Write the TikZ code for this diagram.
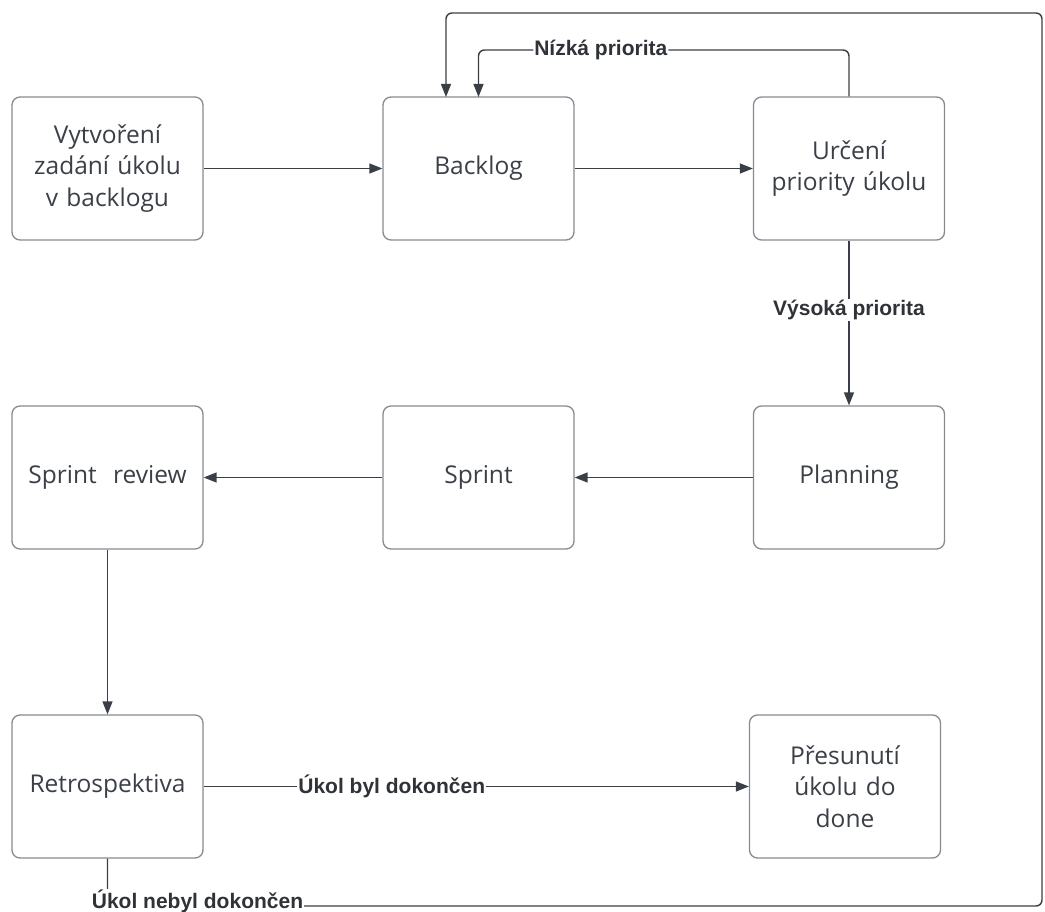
\documentclass[tikz,border=0pt]{standalone}
\usepackage{fontspec}
\setmainfont{Open Sans}
\newfontfamily\labelfont{Liberation Sans}
\usetikzlibrary{arrows.meta}
\definecolor{boxline}{HTML}{878B91}
\definecolor{wire}{HTML}{3A3F47}
\definecolor{ink}{HTML}{3B4048}
\definecolor{tagink}{HTML}{2F3338}
\begin{document}
\begin{tikzpicture}[x=1pt,y=-1pt,
  stage/.style={draw=boxline, line width=1.3pt, rounded corners=8pt, fill=white,
    minimum width=191pt, minimum height=143pt, inner sep=0pt, text width=185pt,
    align=center, text=ink, font=\fontsize{24.5}{31.5}\selectfont},
  wireline/.style={draw=wire, line width=1.4pt},
  flow/.style={wireline, -{Triangle[length=13pt,width=10pt]}},
  tag/.style={fill=white, inner sep=1pt, text=tagink,
    font=\labelfont\bfseries\fontsize{21}{23}\selectfont}]
\useasboundingbox (0,0) rectangle (1045,912);

% process steps
\node[stage] (create)   at (107.5,168.5) {Vytvoření\\zadání úkolu\\v backlogu};
\node[stage] (backlog)  at (478.5,168.5) {Backlog};
\node[stage] (priority) at (849,168.5)   {Určení\\priority úkolu};
\node[stage] (review)   at (107.5,477.5) {Sprint~~review};
\node[stage] (sprint)   at (478.5,477.5) {Sprint};
\node[stage] (planning) at (849,477.5)   {Planning};
\node[stage] (retro)    at (107.5,786.5) {Retrospektiva};
\node[stage] (done)     at (845,786.5)   {Přesunutí\\úkolu do\\done};

% routing points of the two return paths
\coordinate (lowIn)   at (478.5,97);
\coordinate (lowTop)  at (849,50);
\coordinate (loopIn)  at (446,97);
\coordinate (loopBL)  at (107.5,906);
\coordinate (loopBR)  at (1042,906);
\coordinate (loopTR)  at (1042,13);

% main flow
\draw[flow] (create) -- (backlog);
\draw[flow] (backlog) -- (priority);
\draw[flow] (priority) -- node[tag, pos=0.42] {Výsoká priorita} (planning);
\draw[flow] (planning) -- (sprint);
\draw[flow] (sprint) -- (review);
\draw[flow] (review) -- (retro);
\draw[flow] (retro) -- node[tag, pos=0.345] {Úkol byl dokončen} (done);

% low priority goes back to the backlog
\draw[flow, rounded corners=6pt] (priority.north) -- (lowTop)
  -- node[tag, pos=0.67] {Nízká priorita} (lowIn |- lowTop) -- (lowIn);

% unfinished task returns to the backlog
\draw[flow, rounded corners=6pt] (retro.south) -- (loopBL) -- (loopBR)
  -- (loopTR) -- (loopIn |- loopTR) -- (loopIn);
\node[tag] (unfinished) at (197.5,901) {Úkol nebyl dokončen};
\end{tikzpicture}
\end{document}
